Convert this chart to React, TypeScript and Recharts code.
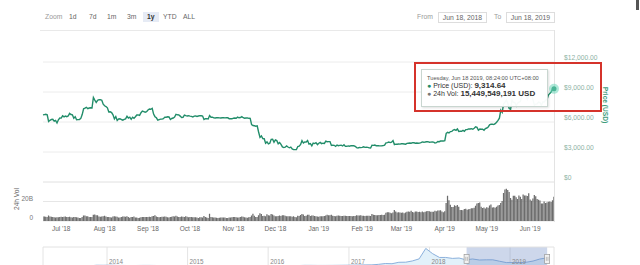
import React from 'react';
import {
  LineChart, Line, XAxis, YAxis, CartesianGrid, Tooltip,
  BarChart, Bar, AreaChart, Area, ReferenceArea, ReferenceDot, ReferenceLine,
} from 'recharts';

// ---------- DATA ----------
const START_DATE = '2018-06-18';
const END_DATE = '2019-06-18';

// daily BTC price (USD), Jun 18 2018 -> Jun 18 2019
const priceJun18 = [6710, 6740, 6770, 6720, 6050, 6170, 6250, 6270, 6090, 6150, 5900, 6220, 6400];
const priceJul18 = [6390, 6620, 6510, 6590, 6530, 6600, 6860, 6750, 6720, 6380, 6520, 6230, 6240, 6250, 6360, 6740, 7320, 7380, 7470, 7330, 7400, 7420, 7400, 8450, 8190, 7950, 8170, 8230, 8220, 8180, 7780];
const priceAug18 = [7620, 7550, 7420, 7010, 7030, 6940, 6720, 6310, 6540, 6160, 6300, 6330, 6250, 6190, 6270, 6310, 6580, 6400, 6490, 6270, 6480, 6370, 6520, 6700, 6710, 6670, 6930, 7090, 7040, 6980, 7030];
const priceSep18 = [7200, 7300, 7270, 7370, 6790, 6530, 6420, 6190, 6240, 6290, 6290, 6330, 6490, 6480, 6520, 6500, 6250, 6350, 6400, 6490, 6770, 6720, 6710, 6590, 6450, 6460, 6690, 6630, 6600, 6630];
const priceOct18 = [6590, 6560, 6500, 6590, 6610, 6560, 6600, 6640, 6620, 6590, 6250, 6330, 6340, 6300, 6640, 6480, 6480, 6410, 6400, 6420, 6440, 6410, 6400, 6420, 6420, 6410, 6420, 6420, 6330, 6340, 6320];
const priceNov18 = [6380, 6400, 6380, 6490, 6420, 6450, 6530, 6430, 6380, 6400, 6410, 6370, 6360, 5740, 5650, 5620, 5580, 5620, 5000, 4460, 4600, 4350, 4330, 3880, 4010, 3820, 3880, 4270, 4280, 3970];
const priceDec18 = [4210, 4140, 3820, 3950, 3770, 3510, 3440, 3480, 3610, 3500, 3420, 3490, 3310, 3240, 3240, 3250, 3550, 3590, 3750, 4130, 3900, 4000, 3990, 4140, 3780, 3830, 3620, 3880, 3840, 3930, 3740];
const priceJan19 = [3880, 3960, 3840, 3880, 3860, 4080, 4030, 4040, 4040, 3650, 3690, 3670, 3560, 3700, 3630, 3660, 3680, 3600, 3730, 3560, 3570, 3610, 3580, 3630, 3620, 3620, 3570, 3440, 3410, 3460, 3440];
const priceFeb19 = [3460, 3520, 3460, 3470, 3460, 3410, 3400, 3670, 3660, 3690, 3630, 3640, 3620, 3610, 3620, 3640, 3680, 3910, 3940, 3990, 3940, 3980, 4140, 3740, 3790, 3770, 3800, 3790];
const priceMar19 = [3820, 3820, 3800, 3780, 3860, 3880, 3900, 3880, 3930, 3920, 3880, 3900, 3880, 3890, 3930, 4010, 3980, 4000, 4030, 4030, 3970, 3990, 4000, 3990, 3910, 3930, 4050, 4030, 4100, 4110, 4100];
const priceApr19 = [4140, 4860, 4970, 4910, 5040, 5060, 5200, 5240, 5170, 5310, 5060, 5070, 5070, 5160, 5070, 5240, 5240, 5310, 5300, 5330, 5280, 5380, 5520, 5460, 5180, 5290, 5270, 5280, 5170, 5350];
const priceMay19 = [5400, 5500, 5720, 5780, 5780, 5740, 5830, 5980, 6170, 6380, 7190, 6970, 7820, 7990, 8210, 7880, 7350, 7270, 8200, 7970, 7960, 7620, 7880, 8000, 8050, 8670, 8810, 8720, 8660, 8270, 8550];
const priceJun19 = [8560, 8740, 8210, 7690, 7780, 7820, 8000, 7950, 7650, 8000, 8000, 8190, 8230, 8690, 8860, 8990, 9320, 9314.64];

// daily 24h volume (billions USD)
const volJun18 = [4.6, 4.5, 4.4, 4.0, 5.6, 4.5, 4.4, 4.2, 3.8, 3.7, 3.9, 3.8, 4.0];
const volJul18 = [4.3, 4.2, 4.4, 4.6, 4.2, 4.1, 4.4, 3.9, 3.7, 4.0, 4.2, 3.9, 3.5, 3.1, 3.2, 4.1, 5.7, 5.7, 5.0, 4.9, 4.1, 4.0, 4.1, 6.3, 6.7, 6.0, 5.8, 4.5, 4.3, 4.6, 5.0];
const volAug18 = [5.3, 4.7, 4.2, 4.2, 3.9, 3.7, 4.5, 5.0, 4.7, 4.3, 3.6, 3.7, 4.1, 4.5, 4.7, 4.4, 4.9, 4.2, 3.4, 4.1, 4.1, 4.5, 3.6, 3.5, 3.2, 3.3, 3.9, 4.1, 4.1, 4.2, 4.0];
const volSep18 = [4.2, 4.4, 4.1, 4.8, 5.2, 5.8, 4.6, 4.1, 3.8, 4.0, 4.3, 4.3, 4.5, 4.4, 3.8, 3.7, 4.2, 4.4, 5.0, 4.5, 5.3, 4.5, 4.0, 4.2, 4.5, 4.3, 4.2, 4.9, 4.3, 3.8];
const volOct18 = [4.1, 4.1, 3.9, 3.8, 3.8, 3.5, 3.2, 3.9, 3.8, 3.7, 5.1, 4.0, 3.6, 3.2, 7.4, 4.1, 3.8, 3.7, 3.6, 3.3, 3.1, 3.3, 3.7, 3.6, 3.6, 3.5, 3.2, 3.0, 3.6, 3.6, 3.9];
const volNov18 = [4.0, 4.1, 3.9, 3.5, 3.6, 4.1, 4.6, 4.3, 3.9, 3.5, 3.4, 3.9, 4.1, 5.7, 7.4, 5.3, 4.2, 4.0, 5.8, 7.9, 7.3, 5.2, 5.4, 5.0, 6.9, 5.8, 5.6, 7.3, 6.7, 5.6];
const volDec18 = [5.0, 5.0, 5.1, 5.7, 5.1, 5.9, 6.0, 5.4, 4.9, 4.8, 4.9, 5.0, 4.3, 4.8, 4.2, 3.9, 5.4, 5.2, 6.1, 7.2, 6.7, 5.1, 5.4, 6.3, 6.4, 5.2, 5.6, 5.7, 5.2, 4.9, 4.5];
const volJan19 = [4.3, 4.9, 5.0, 5.0, 5.1, 5.6, 6.3, 5.9, 6.0, 6.4, 5.5, 5.2, 4.9, 5.5, 5.6, 5.4, 5.2, 5.1, 5.5, 5.4, 5.1, 5.2, 5.2, 5.1, 5.0, 5.1, 5.2, 5.9, 5.6, 5.6, 6.0];
const volFeb19 = [5.5, 5.4, 5.1, 5.4, 5.5, 5.3, 5.2, 7.2, 6.4, 6.1, 6.0, 6.0, 6.1, 6.2, 6.3, 6.2, 6.4, 8.4, 8.9, 9.1, 8.5, 8.0, 8.7, 11.2, 9.8, 8.6, 9.1, 8.7];
const volMar19 = [8.5, 8.7, 8.0, 8.7, 9.5, 9.8, 9.6, 10.4, 9.2, 8.6, 9.7, 9.8, 9.3, 9.6, 9.1, 9.7, 9.1, 9.5, 9.9, 10.2, 10.0, 9.4, 9.5, 9.4, 10.6, 10.1, 10.7, 10.7, 10.9, 9.8, 9.1];
const volApr19 = [10.0, 18.5, 26.0, 21.2, 16.7, 14.4, 14.4, 16.1, 15.3, 16.5, 14.6, 11.4, 11.2, 10.9, 12.4, 12.5, 11.6, 12.0, 12.3, 13.0, 13.0, 13.5, 15.6, 17.9, 18.5, 19.0, 14.6, 13.4, 13.9, 12.7];
const volMay19 = [14.2, 13.6, 16.0, 17.0, 13.8, 14.1, 13.6, 14.7, 15.8, 16.3, 18.4, 20.4, 28.7, 32.3, 33.0, 31.9, 29.7, 23.5, 21.9, 25.9, 25.9, 24.3, 22.5, 26.2, 24.8, 22.6, 27.2, 26.1, 26.2, 25.7, 28.5];
const volJun19 = [22.0, 20.8, 23.2, 26.6, 25.4, 22.5, 21.8, 21.0, 18.0, 17.9, 19.9, 18.5, 19.0, 19.7, 20.1, 19.4, 21.2, 25.0];

const priceTicks = [0, 3000, 6000, 9000, 12000];
const volTicks = [0, 20, 40];
const monthStarts = ['2018-07-01', '2018-08-01', '2018-09-01', '2018-10-01', '2018-11-01', '2018-12-01', '2019-01-01', '2019-02-01', '2019-03-01', '2019-04-01', '2019-05-01', '2019-06-01'];
const monthLabels = ["Jul '18", "Aug '18", "Sep '18", "Oct '18", "Nov '18", "Dec '18", "Jan '19", "Feb '19", "Mar '19", "Apr '19", "May '19", "Jun '19"];

// navigator: monthly BTC price (USD), from May 2013
const NAV_START_MONTH = '2013-05-15';
const navPrice = [
  120, 108, 90, 110, 130, 180, 800, 750,
  850, 620, 580, 450, 530, 620, 620, 520, 470, 380, 380, 340,
  240, 240, 280, 230, 240, 240, 280, 260, 230, 270, 330, 430,
  400, 400, 415, 425, 455, 680, 660, 580, 605, 640, 710, 800,
  900, 1010, 1150, 1200, 1750, 2600, 2400, 3900, 4000, 5300, 7500, 18500,
  13000, 9000, 9000, 8000, 8400, 6500, 7400, 6300, 6500, 6500, 5000, 3600,
  3600, 3600, 3950, 5200, 7300, 8500,
];
const navYears = ['2014', '2015', '2016', '2017', '2018', '2019'];
const NAV_DOMAIN = ['2013-03-17', '2019-07-19'];

const TOOLTIP_TIME = 'Tuesday, Jun 18 2019, 08:24:00 UTC+08:00';
const TOOLTIP_VOL = 15449549191;

const zoomButtons = ['1d', '7d', '1m', '3m', '1y', 'YTD', 'ALL'];
const FROM_LABEL = 'Jun 18, 2018';
const TO_LABEL = 'Jun 18, 2019';

// ---------- BUILD ----------
const DAY = 86400000;
const t0 = Date.parse(START_DATE);
const t1 = Date.parse(END_DATE);
const prices = [...priceJun18, ...priceJul18, ...priceAug18, ...priceSep18, ...priceOct18, ...priceNov18, ...priceDec18, ...priceJan19, ...priceFeb19, ...priceMar19, ...priceApr19, ...priceMay19, ...priceJun19];
const volumes = [...volJun18, ...volJul18, ...volAug18, ...volSep18, ...volOct18, ...volNov18, ...volDec18, ...volJan19, ...volFeb19, ...volMar19, ...volApr19, ...volMay19, ...volJun19];
const daily = prices.map((p, i) => ({ t: t0 + i * DAY, price: p, vol: volumes[i] }));
const monthTickTs = monthStarts.map((d) => Date.parse(d));
const monthLabelByTs: Record<number, string> = {};
monthTickTs.forEach((t, i) => { monthLabelByTs[t] = monthLabels[i]; });

const navBase = new Date(NAV_START_MONTH);
const navData = navPrice.map((v, i) => ({
  t: Date.UTC(navBase.getUTCFullYear(), navBase.getUTCMonth() + i, 15),
  v,
}));
const navYearTs = navYears.map((y) => Date.UTC(Number(y), 0, 1));
const navDomain = NAV_DOMAIN.map((d) => Date.parse(d));

const FONT = '"Liberation Sans", Arial, Helvetica, sans-serif';
const GREEN = '#228d6a';
const W = 640;
const H = 265;

// ---------- TICKS ----------
const PriceTick = (props: any) => {
  const { x, y, payload } = props;
  const v = Number(payload.value);
  const label = v === 0 ? '$0' : '$' + v.toLocaleString('en-US', { minimumFractionDigits: 2, maximumFractionDigits: 2 });
  return (
    <text x={x + 10} y={y - 1.6} fontSize={6.7} fill="#8db2a4" fontFamily={FONT} textAnchor="start">{label}</text>
  );
};

const VolTick = (props: any) => {
  const { x, y, payload } = props;
  if (payload.value >= 40) return null;
  const label = payload.value === 0 ? '0' : payload.value + 'B';
  return (
    <text x={x - 10} y={y - 1} fontSize={6.5} fill="#777" fontFamily={FONT} textAnchor="end">{label}</text>
  );
};

const MonthTick = (props: any) => {
  const { x, payload } = props;
  return (
    <text x={x} y={230.5} fontSize={6.5} fill="#666" fontFamily={FONT} textAnchor="middle">{monthLabelByTs[payload.value]}</text>
  );
};

const YearTick = (props: any) => {
  const { x, y, payload } = props;
  return (
    <text x={x + 2} y={y - 2} fontSize={6.3} fill="#888" fontFamily={FONT} textAnchor="start">{new Date(payload.value).getUTCFullYear()}</text>
  );
};

const TipBox = (props: any) => {
  const { active, payload } = props;
  if (!active || !payload || !payload.length) return null;
  const p = payload[0].payload;
  return (
    <div style={{
      width: 127, height: 38, boxSizing: 'border-box', border: '1px solid #c9d6d0',
      background: 'rgba(255,255,255,0.96)', boxShadow: '1px 1px 2px rgba(0,0,0,0.12)',
      fontFamily: FONT, padding: '5px 0 0 5px', color: '#333', whiteSpace: 'nowrap',
    }}>
      <div style={{ fontSize: 5.7, lineHeight: '7px', color: '#555' }}>{TOOLTIP_TIME}</div>
      <div style={{ fontSize: 7, lineHeight: '8px' }}>
        <span style={{ color: GREEN }}>●</span> Price (USD): <b style={{ fontSize: 8 }}>{p.price.toLocaleString('en-US', { minimumFractionDigits: 2, maximumFractionDigits: 2 })}</b>
      </div>
      <div style={{ fontSize: 7, lineHeight: '8px' }}>
        <span style={{ color: '#777' }}>●</span> 24h Vol: <b style={{ fontSize: 8 }}>{TOOLTIP_VOL.toLocaleString('en-US')} USD</b>
      </div>
    </div>
  );
};

const HandleShape = (props: any) => {
  const { cx, cy } = props;
  return (
    <g>
      <rect x={cx - 2.5} y={cy - 5} width={5} height={9} fill="#f2f2f2" stroke="#999" strokeWidth={0.7} />
      <line x1={cx - 0.8} y1={cy - 2.5} x2={cx - 0.8} y2={cy + 1.5} stroke="#999" strokeWidth={0.6} />
      <line x1={cx + 0.8} y1={cy - 2.5} x2={cx + 0.8} y2={cy + 1.5} stroke="#999" strokeWidth={0.6} />
    </g>
  );
};

const abs = (l: number, t: number, extra: any = {}) => ({ position: 'absolute' as const, left: l, top: t, ...extra });

export default function App() {
  const txt = { fontSize: 6.8, lineHeight: '10px', fontFamily: FONT, whiteSpace: 'nowrap' as const };
  const btnX = [69, 89, 107, 127, 147, 163, 183];
  return (
    <div style={{ position: 'absolute', left: 0, top: 0, width: W, height: H, overflow: 'hidden', background: '#fff', fontFamily: FONT }}>
      {/* toolbar */}
      <div style={{ ...abs(45, 12), ...txt, color: '#999' }}>Zoom</div>
      <div style={{ ...abs(143, 12), width: 16, height: 10, background: '#e6ebf5' }} />
      {zoomButtons.map((b, i) => (
        <div key={b} style={{ ...abs(btnX[i], 12), ...txt, color: b === '1y' ? '#333' : '#666', fontWeight: b === '1y' ? 'bold' : 'normal' }}>{b}</div>
      ))}
      <div style={{ ...abs(417, 12), ...txt, color: '#999' }}>From</div>
      <div style={{ ...abs(438, 12), width: 49, height: 11, boxSizing: 'border-box', border: '1px solid #ddd', ...txt, lineHeight: '9px', color: '#666', textAlign: 'center' }}>{FROM_LABEL}</div>
      <div style={{ ...abs(494, 12), ...txt, color: '#999' }}>To</div>
      <div style={{ ...abs(506, 12), width: 49, height: 11, boxSizing: 'border-box', border: '1px solid #ddd', ...txt, lineHeight: '9px', color: '#666', textAlign: 'center' }}>{TO_LABEL}</div>
      <div style={{ ...abs(636, 0), width: 3, height: 10, background: '#555' }} />

      {/* plot frame */}
      <div style={{ ...abs(40, 30), width: 515, height: 1, background: '#e9e9e9' }} />
      <div style={{ ...abs(554, 30), width: 1, height: 192, background: '#e3e3e3' }} />

      {/* volume chart */}
      <div style={abs(0, 0)}>
        <BarChart width={W} height={H} data={daily} margin={{ top: 182, right: 86, bottom: 24, left: 0 }} barSize={1.25}>
          <CartesianGrid vertical={false} stroke="#e6e6e6" />
          <XAxis dataKey="t" type="number" domain={[t0, t1]} ticks={monthTickTs} tick={<MonthTick />} axisLine={false} tickLine={false} height={20} interval={0} allowDataOverflow />
          <YAxis domain={[0, 40]} ticks={volTicks} interval={0} tick={<VolTick />} width={43} axisLine={false} tickLine={false} tickSize={0} tickMargin={0}
            label={{ content: () => (
              <text transform="translate(16,199) rotate(-90)" textAnchor="middle" fontSize={6.6} fill="#666" fontFamily={FONT} dominantBaseline="central">24h Vol</text>
            ) }} />
          <Bar dataKey="vol" fill="#6c6c6c" isAnimationActive={false} />
        </BarChart>
      </div>

      {/* navigator */}
      <div style={abs(0, 0)}>
        <AreaChart width={W} height={280} data={navData} margin={{ top: 247, right: 86, bottom: 0, left: 43 }}>
          <CartesianGrid horizontal={false} stroke="#e4e4e4" />
          <XAxis dataKey="t" type="number" domain={navDomain} ticks={navYearTs} tick={<YearTick />} axisLine={false} tickLine={false} tickSize={0} tickMargin={0} height={14} allowDataOverflow interval={0} />
          <YAxis domain={[0, 20000]} hide />
          <ReferenceLine y={20000} stroke="#e2e2e2" />
          <Area type="linear" dataKey="v" stroke="#7fa8d8" strokeWidth={0.9} fill="#e2f1fa" fillOpacity={1} isAnimationActive={false} />
          <ReferenceArea x1={t0} x2={t1} y1={0} y2={20000} fill="#6685c2" fillOpacity={0.33} stroke="none" />
          <ReferenceDot x={t0} y={7000} shape={<HandleShape />} />
          <ReferenceDot x={t1} y={7000} shape={<HandleShape />} />
        </AreaChart>
      </div>

      {/* price chart */}
      <div style={abs(0, 0)}>
        <LineChart width={W} height={H} data={daily} margin={{ top: 62, right: 26, bottom: 83, left: 43 }}>
          <CartesianGrid vertical={false} stroke="#ececec" />
          <XAxis dataKey="t" type="number" domain={[t0, t1]} hide />
          <YAxis orientation="right" domain={[0, 12000]} ticks={priceTicks} interval={0} tick={<PriceTick />} width={60} axisLine={false} tickLine={false} tickSize={0} tickMargin={0}
            label={{ content: () => (
              <text transform="translate(605,105) rotate(90)" textAnchor="middle" fontSize={6.6} fontWeight="bold" fill="#3d9c7b" fontFamily={FONT} dominantBaseline="central">Price (USD)</text>
            ) }} />
          <Tooltip
            active={true}
            defaultIndex={daily.length - 1}
            position={{ x: 421, y: 69 }}
            cursor={false}
            isAnimationActive={false}
            content={<TipBox />}
            wrapperStyle={{ zIndex: 5 }}
          />
          <Line type="linear" dataKey="price" stroke={GREEN} strokeWidth={1.4} dot={false}
            activeDot={{ r: 2.5, fill: GREEN, stroke: 'rgba(110,215,185,0.55)', strokeWidth: 5 }}
            isAnimationActive={false} />
        </LineChart>
      </div>

      {/* highlight box */}
      <div style={{ ...abs(414, 62), width: 188, height: 50, boxSizing: 'border-box', border: '2px solid #d5332b', pointerEvents: 'none' }} />
    </div>
  );
}
